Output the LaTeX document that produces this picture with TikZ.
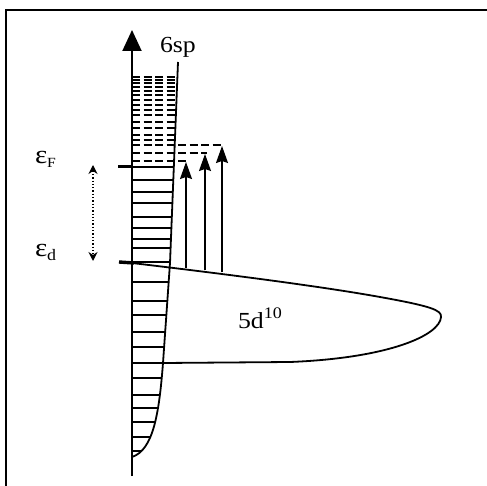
\documentclass[tikz,border=0pt]{standalone}
\usepackage{fontspec}
\setmainfont{Liberation Serif}
\usetikzlibrary{arrows.meta}
\begin{document}
\begin{tikzpicture}[x=1pt,y=-1pt,line width=1.8pt,
  lvl/.style={line width=1.9pt},
  dlvl/.style={line width=1.8pt,dash pattern=on 8pt off 3.5pt},
  exc/.style={line width=1.5pt,-{Stealth[length=17pt,width=12pt,inset=2pt]}},
  lbl/.style={font=\fontsize{23}{26}\selectfont,inner sep=0pt,xscale=1.12}]
\useasboundingbox (0,0) rectangle (487,486);
% frame
\draw[line width=1.8pt] (6,486) -- (6,10) -- (487,10);
% occupied and empty levels of the 6sp band, clipped to the band
\begin{scope}
  \clip (132,60) -- (178,60) -- (170,263) -- (163,363)
        .. controls (159,415) and (153,450) .. (132,457) -- cycle;
  \foreach \y in {167,180,192,203,217,228,239,248,262,282,301,315,332,347,363,378,395,408,422,437,451}
    \draw[lvl] (132,\y) -- (200,\y);
  \foreach \y in {77,80,83,87,91,95,100,105,110,115,122,128,135,140}
    \draw[dlvl] (132,\y) -- (200,\y);
\end{scope}
% longer empty levels reached by the excitations
\draw[dlvl] (132,145) -- (223,145);
\draw[dlvl] (132,153) -- (207,153);
\draw[dlvl] (132,161) -- (189,161);
% 6sp band edge
\draw[line width=1.8pt] (178,62) -- (170,263) -- (163,363)
      .. controls (159,415) and (153,450) .. (132,457);
% energy axis
\draw[line width=1.9pt,-{Triangle[length=21pt,width=19pt]}] (132,476) -- (132,30);
% 5d band
\draw[line width=1.8pt] (132,263) .. controls (250,277) and (330,288) .. (380,297)
      .. controls (430,306) and (442,310) .. (441,317)
      .. controls (440,335) and (390,358) .. (290,362) -- (163,363);
% Fermi and d level ticks
\draw[line width=3pt] (118,167) -- (133,167);
\draw[line width=3.4pt] (119,262) -- (134,263);
% excitations
\draw[exc] (186,268.5) -- (186,162);
\draw[exc] (205,270.5) -- (205,154);
\draw[exc] (222,272.5) -- (222,146);
% energy separation
\draw[line width=1.3pt,dotted,{Stealth[length=9pt,width=9pt]}-{Stealth[length=9pt,width=9pt]}] (93,165) -- (93,261);
% labels
\node[lbl,anchor=base west] (sp) at (159,53) {6sp};
\node[lbl,anchor=base west] (d10) at (237,328) {5d\textsuperscript{10}};
\node[lbl,anchor=base west,font=\fontsize{26}{28}\selectfont] (eF) at (34,164) {ε\raisebox{-0.3ex}{\fontsize{14}{15}\selectfont F}};
\node[lbl,anchor=base west,font=\fontsize{26}{28}\selectfont] (ed) at (34,257) {ε\raisebox{-0.3ex}{\fontsize{16}{17}\selectfont d}};
\end{tikzpicture}
\end{document}
